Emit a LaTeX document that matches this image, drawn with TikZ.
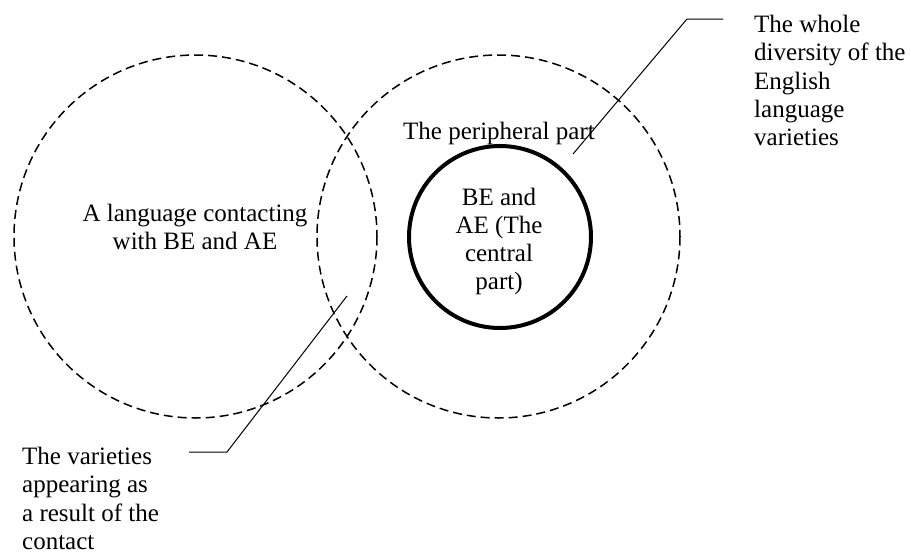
\documentclass[tikz,border=0pt]{standalone}
\usepackage{fontspec}
\setmainfont{Liberation Serif}
\begin{document}
\begin{tikzpicture}[x=1pt,y=-1pt,
  dashcircle/.style={draw=black,line width=1.5pt,dash pattern=on 9pt off 5pt},
  corecircle/.style={draw=black,line width=4pt},
  leader/.style={draw=black,line width=1pt},
  lbl/.style={inner sep=0pt,font=\fontsize{25}{28.3}\selectfont}]
\useasboundingbox (0,0) rectangle (911,554);
% circles
\draw[dashcircle] (195.5,236.5) circle[radius=181.5];
\draw[dashcircle] (498.5,236.5) circle[radius=181.5];
\draw[corecircle] (500,237) circle[radius=91];
% texts
\node[lbl,anchor=north,align=center] (lang) at (195,204) {A language contacting\\with BE and AE};
\node[lbl,anchor=base] (peri) at (499,139) {The peripheral part};
\node[lbl,anchor=north,align=center] (core) at (499,187.5) {BE and\\AE (The\\central\\part)};
\node[lbl,anchor=north west,align=left] (whole) at (754,15) {The whole\\diversity of the\\English\\language\\varieties};
\node[lbl,anchor=north west,align=left] (vari) at (22,447) {The varieties\\appearing as\\a result of the\\contact};
% leaders
\coordinate (w1) at (723,19);
\coordinate (w2) at (687,19);
\coordinate (w3) at (573,154);
\coordinate (v1) at (189,452);
\coordinate (v2) at (227,452);
\coordinate (v3) at (347,296);
\draw[leader] (w1) -- (w2) -- (w3);
\draw[leader] (v1) -- (v2) -- (v3);
\end{tikzpicture}
\end{document}
